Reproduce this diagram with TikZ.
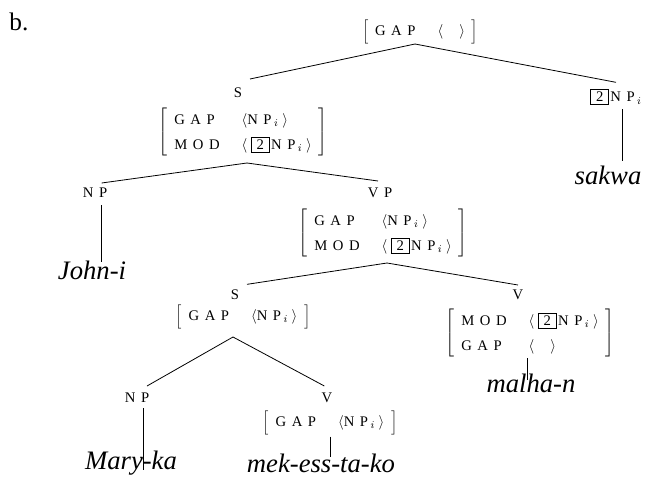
\documentclass[tikz,border=0pt]{standalone}
\usepackage{fontspec}
\setmainfont{Liberation Serif}

% letter-spaced feature names
\newcommand\lsp{\hspace{0.38em}}
\newcommand\fgap{G\lsp A\lsp P}
\newcommand\fmod{M\lsp O\lsp D}
\newcommand\npi{N\lsp P\,$_{i}$\hspace{0.25em}}
\newcommand\tagtwo{{\setlength\fboxsep{1.6pt}\setlength\fboxrule{0.5pt}\fbox{\hspace{2.2pt}2\hspace{2.2pt}}}}
% attribute-value matrices in square brackets
\newcommand\avmtwo[1]{$\renewcommand\arraystretch{1.45}\left[\begin{array}{@{\hspace{0.45em}}l@{\hspace{1.5em}}l@{\hspace{0.45em}}}#1\end{array}\right]$}
\newcommand\avmone[1]{$\renewcommand\arraystretch{1.05}\left[\begin{array}{@{\hspace{0.45em}}l@{\hspace{1.5em}}l@{\hspace{0.45em}}}#1\end{array}\right]$}
\newcommand\gaprow[1]{\mbox{\fgap} & \langle\mbox{#1}\rangle}
\newcommand\modrow{\mbox{\fmod} & \big\langle\hspace{0.25em}\mbox{\tagtwo\hspace{1pt}\npi}\big\rangle}

\begin{document}
\begin{tikzpicture}[x=0.75pt,y=-0.75pt,
  lab/.style={inner sep=1pt, font=\fontsize{11}{13}\selectfont},
  avm/.style={inner sep=0pt, font=\fontsize{11}{13}\selectfont},
  word/.style={inner sep=0pt, font=\fontsize{20}{24}\selectfont\itshape},
  edge/.style={line width=0.6pt}]
\useasboundingbox (0,0) rectangle (649,478);

\node[font=\fontsize{19}{22}\selectfont] (b) at (19,22) {b.};

% root
\node[avm] (top) at (420,32) {\avmone{\mbox{\fgap} & \langle\hspace{1.1em}\rangle}};
\coordinate (j0) at (415,44);

% S and the filler
\node[lab] (S) at (238,93) {S};
\node[avm] (Savm) at (243,132) {\avmtwo{\gaprow{\npi}\\ \modrow}};
\node[lab] (tag) at (616,97) {\tagtwo\hspace{1pt}\npi};
\node[word] (sakwa) at (608,175) {sakwa};
\coordinate (j1) at (247,163);

% NP and VP
\node[lab] (NP) at (95,193) {N\lsp P};
\node[lab] (VP) at (380,193) {V\lsp P};
\node[avm] (VPavm) at (383,233) {\avmtwo{\gaprow{\npi}\\ \modrow}};
\node[word] (john) at (92,270) {John-i};
\coordinate (j2) at (387,263);

% embedded S and V
\node[lab] (S2) at (235,295) {S};
\node[lab] (V) at (518,295) {V};
\node[avm] (S2avm) at (243,317) {\avmone{\gaprow{\npi}}};
\node[avm] (Vavm) at (530,333) {\avmtwo{\modrow\\ \mbox{\fgap} & \langle\hspace{1.1em}\rangle}};
\node[word] (malhan) at (531,383) {malha-n};
\coordinate (j3) at (233,337);

% lowest level
\node[lab] (NP2) at (137,398) {N\lsp P};
\node[lab] (V2) at (327,398) {V};
\node[avm] (V2avm) at (330,423) {\avmone{\gaprow{\npi}}};
\node[word] (mary) at (131,463) {Mary-ka};
\node[word] (mek) at (321,463) {mek-ess-ta-ko};

% branches
\begin{scope}[edge]
\draw (j0) -- ([xshift=9pt,yshift=10.5pt]S.center);
\draw (j0) -- ([yshift=11pt]tag.center);
\draw ([xshift=5pt,yshift=-9pt]tag.center) -- ([xshift=5pt,yshift=-48pt]tag.center);
\draw (j1) -- ([xshift=5pt,yshift=7.5pt]NP.center);
\draw (j1) -- ([xshift=-1.5pt,yshift=9pt]VP.center);
\draw ([xshift=5pt,yshift=-9pt]NP.center) -- ([xshift=5pt,yshift=-52pt]NP.center);
\draw (j2) -- ([xshift=9pt,yshift=8pt]S2.center);
\draw (j2) -- ([yshift=7.5pt]V.center);
\draw ([xshift=-2pt]Vavm.south) -- ([xshift=-2pt,yshift=-16.5pt]Vavm.south);
\draw (j3) -- ([xshift=7.5pt,yshift=9pt]NP2.center);
\draw (j3) -- ([xshift=-2pt,yshift=9pt]V2.center);
\draw ([xshift=4.5pt,yshift=-7.5pt]NP2.center) -- ([xshift=4.5pt,yshift=-54pt]NP2.center);
\draw ([yshift=-1pt]V2avm.south) -- ([yshift=-16pt]V2avm.south);
\end{scope}
\end{tikzpicture}
\end{document}
